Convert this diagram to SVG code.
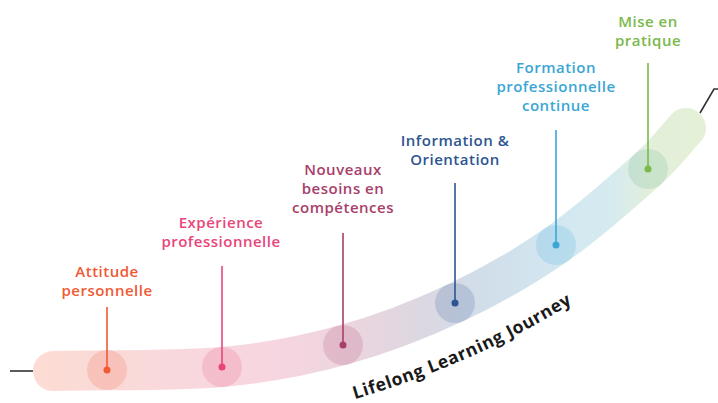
<svg xmlns="http://www.w3.org/2000/svg" width="718" height="403" viewBox="0 0 718 403">
<style>
.lbl{font-family:"Open Sans","Liberation Sans",sans-serif;font-weight:600;font-size:15px;letter-spacing:0.5px;text-anchor:middle}
.stem{stroke-width:1.6;fill:none}
.halo{opacity:0.18}
.conn{stroke:#333;stroke-width:1.6;fill:none}
.title{font-family:"Open Sans","Liberation Sans",sans-serif;font-weight:700;font-size:17.5px;letter-spacing:0.6px;fill:#1a1a1a}
</style>
<defs>
<linearGradient id="band" gradientUnits="userSpaceOnUse" x1="33" y1="0" x2="706" y2="0">
<stop offset="0" stop-color="#fcdcd3"/>
<stop offset="0.22" stop-color="#f8d8dc"/>
<stop offset="0.35" stop-color="#f7d6e0"/>
<stop offset="0.47" stop-color="#ecd5de"/>
<stop offset="0.58" stop-color="#dcd7e2"/>
<stop offset="0.66" stop-color="#d1dde9"/>
<stop offset="0.78" stop-color="#d2e7f1"/>
<stop offset="0.86" stop-color="#d6ebef"/>
<stop offset="0.92" stop-color="#e2efd9"/>
<stop offset="1" stop-color="#e5f0d8"/>
</linearGradient>
<path id="tp" d="M345,402 Q481,363 590,292"/>
</defs>
<g id="connectors">
<line class="conn" x1="10" y1="371" x2="33" y2="371"/>
<polyline class="conn" points="700,113 714,89 718,89"/>
</g>
<g id="band-path">
<path d="M53,371 C109,369.7 173.7,371.3 222,367 C270.3,362.7 304.2,355.7 343,345 C381.8,334.3 419.5,319.7 455,303 C490.5,286.3 523.8,267.3 556,245 C588.2,222.7 626.3,188.5 648,169 C669.7,149.5 673.3,141.7 686,128" fill="none" stroke="url(#band)" stroke-width="40" stroke-linecap="round"/>
</g>
<g id="attitude">
<circle class="halo" cx="107" cy="370" r="20" fill="#f05a35"/>
<line class="stem" x1="107" y1="307" x2="107" y2="370" stroke="#f05a35"/>
<circle cx="107" cy="370" r="3.5" fill="#f05a35"/>
<text class="lbl" fill="#f05a35"><tspan x="107" y="277">Attitude</tspan><tspan x="107" y="296">personnelle</tspan></text>
</g>
<g id="experience">
<circle class="halo" cx="222" cy="367" r="20" fill="#e8467a"/>
<line class="stem" x1="222" y1="266" x2="222" y2="367" stroke="#e8467a"/>
<circle cx="222" cy="367" r="3.5" fill="#e8467a"/>
<text class="lbl" fill="#e8467a"><tspan x="221" y="228">Expérience</tspan><tspan x="221" y="247">professionnelle</tspan></text>
</g>
<g id="nouveaux">
<circle class="halo" cx="343" cy="345" r="20" fill="#a83e6a"/>
<line class="stem" x1="343" y1="233" x2="343" y2="345" stroke="#a83e6a"/>
<circle cx="343" cy="345" r="3.5" fill="#a83e6a"/>
<text class="lbl" fill="#a83e6a"><tspan x="343" y="175">Nouveaux</tspan><tspan x="343" y="194">besoins en</tspan><tspan x="343" y="213">compétences</tspan></text>
</g>
<g id="information">
<circle class="halo" cx="455" cy="303" r="20" fill="#2c5591"/>
<line class="stem" x1="455" y1="183" x2="455" y2="303" stroke="#2c5591"/>
<circle cx="455" cy="303" r="3.5" fill="#2c5591"/>
<text class="lbl" fill="#2c5591"><tspan x="455" y="146">Information &amp;</tspan><tspan x="455" y="165">Orientation</tspan></text>
</g>
<g id="formation">
<circle class="halo" cx="556" cy="245" r="20" fill="#3aa6d6"/>
<line class="stem" x1="556" y1="130" x2="556" y2="245" stroke="#3aa6d6"/>
<circle cx="556" cy="245" r="3.5" fill="#3aa6d6"/>
<text class="lbl" fill="#3aa6d6"><tspan x="556" y="73">Formation</tspan><tspan x="556" y="92">professionnelle</tspan><tspan x="556" y="111">continue</tspan></text>
</g>
<g id="mise">
<circle class="halo" cx="648" cy="169" r="20" fill="#5fae8a"/>
<line class="stem" x1="648" y1="63" x2="648" y2="169" stroke="#7cb84a"/>
<circle cx="648" cy="169" r="3.5" fill="#7cb84a"/>
<text class="lbl" fill="#7cb84a"><tspan x="648" y="27">Mise en</tspan><tspan x="648" y="46">pratique</tspan></text>
</g>
<g id="journey-label">
<text class="title"><textPath href="#tp" startOffset="10">Lifelong Learning Journey</textPath></text>
</g>
</svg>
